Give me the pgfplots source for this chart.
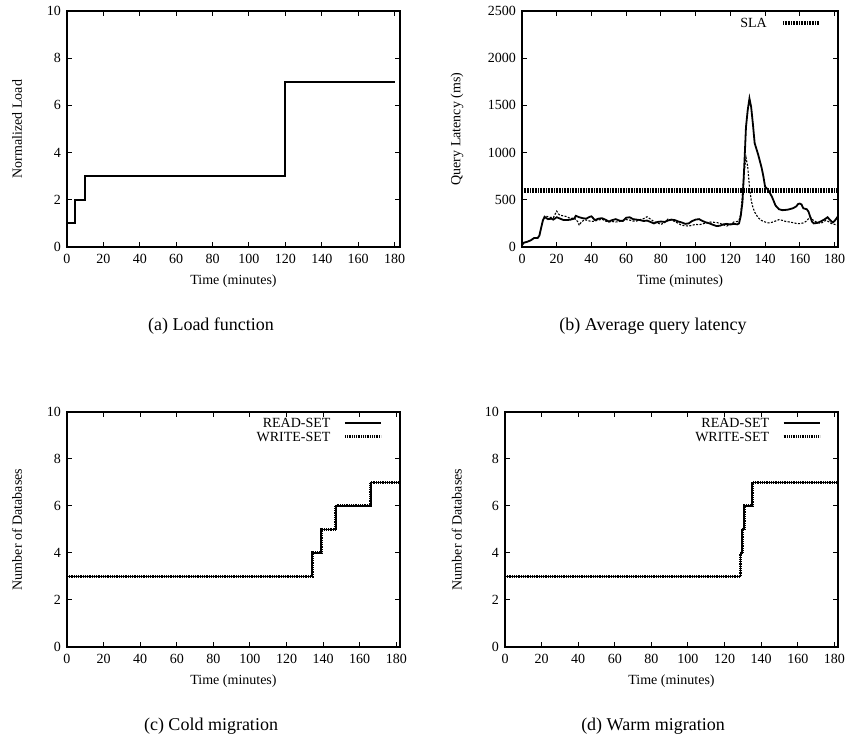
\documentclass[border=0pt]{standalone}
\usepackage{fontspec}
\setmainfont{Liberation Serif}
\usepackage{pgfplots}
\pgfplotsset{compat=1.18}

\newcommand{\smallfont}{\fontsize{14}{16}\selectfont}
\newcommand{\capfont}{\fontsize{18}{21}\selectfont}

\pgfplotsset{
  gp/.style={
    scale only axis,
    anchor=south west,
    xmin=0,
    xtick={0,20,...,180},
    tick align=inside,
    major tick length=5pt,
    axis line style={line width=2pt},
    every tick/.style={black, line width=1pt},
    tick label style={font=\smallfont},
    xticklabel style={yshift=-3.5pt},
    yticklabel style={xshift=-2.5pt},
    label style={font=\smallfont},
    /pgf/number format/assume math mode=true,
    /pgf/number format/1000 sep={},
    xlabel={Time (minutes)},
    xlabel style={at={(axis description cs:0.5,-0.145)}, anchor=center},
    legend style={draw=none, fill=none, font=\smallfont, anchor=north east,
      inner sep=0pt, column sep=11pt,
      nodes={inner sep=2pt, text height=9.5pt, text depth=0pt}},
    legend cell align=right,
    legend plot pos=right,
    legend image code/.code={\draw[##1] (0pt,0pt) -- (36pt,0pt);},
  },
  stepline/.style={black, const plot, line width=1.8pt},
}

\begin{document}
\begin{tikzpicture}
\path[use as bounding box] (0,0) rectangle (847pt,744pt);

% (a) load function
\begin{axis}[gp,
  at={(67pt,497pt)}, width=333pt, height=236pt,
  xmax=183, ymin=0, ymax=10, ytick={0,2,...,10},
  ylabel={Normalized Load},
  ylabel style={at={(axis description cs:-0.15,0.5)}, anchor=center},
]
\addplot[stepline] coordinates {(0,1) (4.6,2) (9.7,3) (119.8,7) (180,7)};
\end{axis}

% (b) query latency
\begin{axis}[gp,
  at={(522pt,497pt)}, width=316pt, height=236pt,
  xmax=182, ymin=0, ymax=2500, ytick={0,500,...,2500},
  ylabel={Query Latency (ms)},
  ylabel style={at={(axis description cs:-0.206,0.5)}, anchor=center},
  legend style={at={(0.9476,0.979)}, column sep=12pt},
]
\addplot[black, line width=1.8pt, forget plot] coordinates {
(0,20)(1,45)(3,55)(5,70)(7,95)(9,95)(10,120)(11,200)(12,280)(13,320)(14,305)(15,295)
(17,300)(18,290)(20,315)(22,300)(24,285)(26,285)(28,290)(30,300)(31,330)(33,315)
(35,305)(37,300)(39,320)(40,325)(42,285)(44,300)(46,305)(48,290)(50,270)(52,285)
(54,295)(56,280)(58,275)(60,310)(62,315)(64,295)(66,290)(68,285)(70,275)(72,280)
(74,265)(76,250)(78,265)(80,270)(82,265)(84,280)(86,290)(88,285)(90,270)(92,260)
(94,245)(96,250)(98,275)(100,290)(102,295)(104,275)(106,260)(108,250)(110,235)
(112,222)(114,225)(116,240)(118,245)(120,238)(122,245)(124,240)(125,250)(126,330)
(127,480)(128,850)(129,1270)(130,1450)(131,1573)(132,1480)(133,1300)(134,1100)
(135,1040)(136,980)(138,840)(139,750)(140,640)(142,600)(144,530)(146,440)(148,400)
(150,390)(153,395)(156,410)(158,430)(159,455)(160,460)(161,450)(162,410)(164,400)
(165,375)(166,320)(167,270)(168,250)(170,255)(172,270)(174,290)(176,315)(177,295)
(178,275)(179,260)(180,275)(182,325)};
\addplot[black, line width=1.1pt, dash pattern=on 2pt off 1.5pt, forget plot] coordinates {
(0,20)(1,45)(3,55)(5,70)(7,95)(9,95)(10,120)(11,200)(12,280)(13,310)(14,325)(16,315)
(18,310)(20,380)(21,350)(22,335)(24,330)(26,320)(28,300)(30,310)(32,270)(33,230)
(34,260)(36,290)(38,280)(40,270)(42,275)(44,285)(46,295)(48,275)(50,265)(52,270)
(54,265)(56,270)(58,280)(60,290)(62,285)(64,275)(66,275)(68,290)(70,300)(72,320)
(74,295)(76,270)(78,255)(80,240)(82,255)(84,295)(86,285)(88,270)(90,250)(92,230)
(94,225)(96,222)(98,230)(100,240)(102,235)(104,245)(106,255)(108,265)(110,262)
(112,260)(114,250)(116,235)(118,222)(120,240)(122,265)(124,270)(125,283)(126,350)
(127,565)(128,800)(129,950)(130,850)(131,640)(132,495)(133,420)(134,370)(136,310)
(138,280)(140,265)(142,255)(144,262)(146,275)(148,290)(150,282)(152,270)(154,265)
(156,258)(158,250)(160,247)(162,255)(164,276)(165,300)(166,318)(167,295)(168,280)
(170,260)(172,250)(174,270)(175,283)(177,265)(178,250)(180,240)(182,230)};
\addplot[black, line width=4.5pt, dash pattern=on 0.8pt off 0.8pt] coordinates {(0,600) (182,600)};
\addlegendentry{SLA}
\end{axis}

% (c) cold migration
\begin{axis}[gp,
  at={(67pt,97pt)}, width=333pt, height=235pt,
  xmax=182, ymin=0, ymax=10, ytick={0,2,...,10},
  ylabel={Number of Databases},
  ylabel style={at={(axis description cs:-0.15,0.5)}, anchor=center},
  legend style={at={(0.948,0.983)}},
]
\addplot[stepline] coordinates {(0,3) (134,4) (139,5) (147,6) (166,7) (182,7)};
\addlegendentry{READ-SET}
\addplot[black, const plot, line width=3pt, dash pattern=on 0.9pt off 0.9pt] coordinates {(0,3) (134,4) (139,5) (147,6) (166,7) (182,7)};
\addlegendentry{WRITE-SET}
\end{axis}

% (d) warm migration
\begin{axis}[gp,
  at={(505pt,97pt)}, width=333pt, height=235pt,
  xmax=182, ymin=0, ymax=10, ytick={0,2,...,10},
  ylabel={Number of Databases},
  ylabel style={at={(axis description cs:-0.145,0.5)}, anchor=center},
  legend style={at={(0.950,0.983)}},
]
\addplot[stepline] coordinates {(0,3) (128.7,4) (129.6,5) (130.7,6) (135.1,7) (182,7)};
\addlegendentry{READ-SET}
\addplot[black, const plot, line width=3pt, dash pattern=on 0.9pt off 0.9pt] coordinates {(0,3) (128.7,4) (129.6,5) (130.7,6) (135.1,7) (182,7)};
\addlegendentry{WRITE-SET}
\end{axis}

\node at (211pt,418pt) {\capfont (a) Load function};
\node at (653pt,418pt) {\capfont (b) Average query latency};
\node at (211pt,18pt) {\capfont (c) Cold migration};
\node at (653pt,18pt) {\capfont (d) Warm migration};
\end{tikzpicture}
\end{document}
